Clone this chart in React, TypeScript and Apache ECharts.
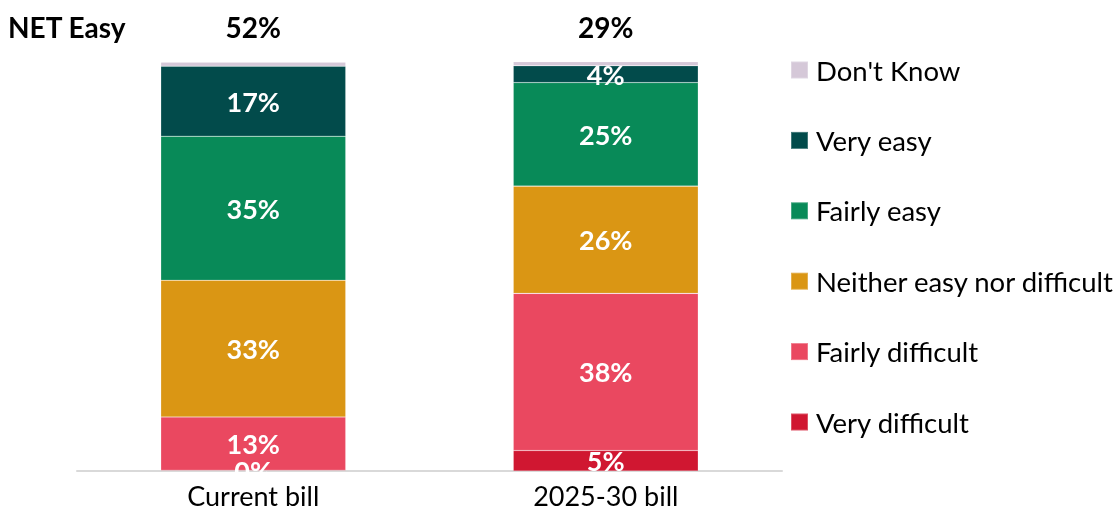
import React, { useEffect, useRef } from "react";
import * as echarts from "echarts";

const categories = ["Current bill", "2025-30 bill"];
const seriesNames = [
  "Very difficult",
  "Fairly difficult",
  "Neither easy nor difficult",
  "Fairly easy",
  "Very easy",
  "Don't Know",
];
const veryDifficult = [0.2, 5.0];
const fairlyDifficult = [13.0, 38.4];
const neither = [33.4, 26.2];
const fairlyEasy = [35.2, 25.3];
const veryEasy = [17.1, 4.1];
const dontKnow = [1.0, 1.0];
const colors = ["#D01731", "#EA4860", "#DA9614", "#088A58", "#024B4B", "#D5C8D8"];
const netTitle = "NET Easy";

const FONT = "Lato, 'Noto Sans', sans-serif";

export default function App() {
  const ref = useRef<HTMLDivElement>(null);
  useEffect(() => {
    if (!ref.current) return;
    const chart = echarts.init(ref.current, undefined, { renderer: "svg" });
    const values = [veryDifficult, fairlyDifficult, neither, fairlyEasy, veryEasy, dontKnow];
    const netLabels = categories.map(
      (_, i) => Math.round(fairlyEasy[i] + veryEasy[i]) + "%"
    );
    const series = seriesNames.map((name, k) => ({
      name,
      type: "bar",
      stack: "total",
      barWidth: 185,
      data: values[k],
      itemStyle: {
        color: colors[k],
        borderColor: "rgba(255,255,255,0.25)",
        borderWidth: 0.6,
      },
      label: {
        show: k !== 5,
        position: "inside",
        color: "#ffffff",
        fontFamily: FONT,
        fontWeight: "bold",
        fontSize: 27,
        formatter: (p: any) => Math.round(p.value) + "%",
      },
    }));
    chart.setOption({
      animation: false,
      textStyle: { fontFamily: FONT },
      title: {
        text: netTitle,
        left: 8,
        top: 13,
        padding: 0,
        textStyle: {
          fontFamily: FONT,
          fontWeight: "bold",
          fontSize: 28,
          lineHeight: 28,
          color: "#000",
        },
      },
      legend: {
        orient: "vertical",
        left: 790,
        top: 56,
        padding: 0,
        itemWidth: 17,
        itemHeight: 17,
        itemGap: 42.4,
        icon: "rect",
        data: [...seriesNames].reverse(),
        textStyle: {
          fontFamily: FONT,
          fontSize: 27.5,
          lineHeight: 28,
          color: "#000",
          padding: [0, 0, 0, 3],
        },
      },
      grid: { left: 77, right: 332, top: 61.7, bottom: 42, containLabel: false },
      xAxis: [
        {
          type: "category",
          data: categories,
          axisLine: { lineStyle: { color: "#d9d9d9", width: 2 } },
          axisTick: { show: false },
          axisLabel: { fontFamily: FONT, fontSize: 27, color: "#000", margin: 11 },
        },
        {
          type: "category",
          position: "top",
          data: netLabels,
          axisLine: { show: false },
          axisTick: { show: false },
          axisLabel: {
            fontFamily: FONT,
            fontSize: 28,
            lineHeight: 28,
            fontWeight: "bold",
            color: "#000",
            margin: 21,
          },
        },
      ],
      yAxis: { type: "value", min: 0, max: 100, show: false },
      series,
    });
    // Mask the part of labels that falls below the axis baseline (plot-area clip)
    const left = chart.convertToPixel({ xAxisIndex: 0 }, categories[0]) as number;
    const right = chart.convertToPixel({ xAxisIndex: 0 }, categories[1]) as number;
    const baseY = chart.convertToPixel({ yAxisIndex: 0 }, 0) as number;
    const half = (right - left) / 2;
    chart.setOption({
      graphic: [
        {
          type: "rect",
          z: 1000,
          shape: { x: left - half, y: baseY + 1, width: (right - left) * 2, height: 10 },
          style: { fill: "#ffffff" },
        },
      ],
    });
    return () => chart.dispose();
  }, []);
  return (
    <div
      ref={ref}
      style={{ position: "fixed", left: 0, top: 0, width: 1114, height: 513 }}
    />
  );
}
